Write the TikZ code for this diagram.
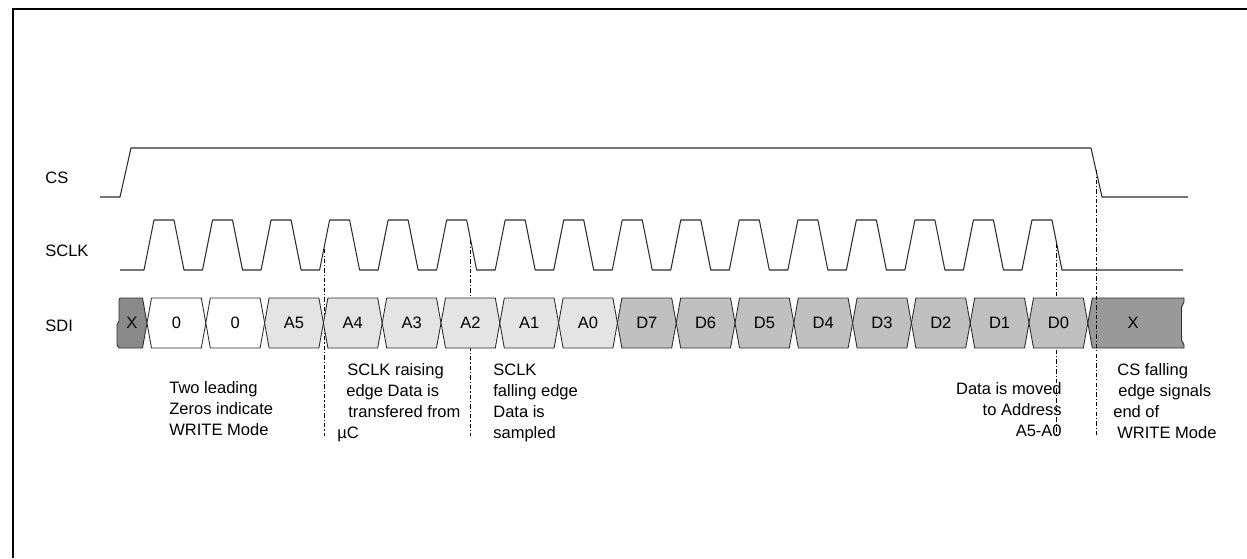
\documentclass[tikz,border=0pt]{standalone}
\usepackage{fontspec}
\setmainfont{Liberation Sans}
\usepackage{xcolor}
\usepackage{tikz}
\usetikzlibrary{positioning}
\definecolor{waveline}{RGB}{45,45,45}
\definecolor{xdark}{RGB}{138,138,138}
\definecolor{xend}{RGB}{153,153,153}
\definecolor{addrgray}{RGB}{228,228,228}
\definecolor{datagray}{RGB}{192,192,192}

\begin{document}
\begin{tikzpicture}[x=0.02cm,y=-0.02cm,
font=\fontsize{9.4}{11.9}\selectfont,
wave/.style={draw=waveline,line width=0.6pt,line join=round},
cell/.style={draw=waveline,line width=0.5pt,line join=round},
guide/.style={draw=black,line width=0.5pt,dash pattern=on 2.5pt off 1.2pt on 0.6pt off 1.2pt},
sig/.style={anchor=west,inner sep=0pt},
bit/.style={inner sep=0pt},
note/.style={align=left,anchor=north west,inner sep=0pt}]
\useasboundingbox (0,0) rectangle (1247,558);
\draw[line width=1.4pt] (13,558) -- (13,9) -- (1247,9);
\node[sig] (cs) at (45,178) {CS};
\node[sig] (sclk) at (45,251) {SCLK};
\node[sig] (sdi) at (45,326) {SDI};
\draw[wave] (100,197) -- (120,197) -- (131,148) -- (1091,148) -- (1102,197) -- (1188,197);
\draw[wave] (120,270) \foreach \k in {0,...,15} { -- ({144+58.53*\k},270) -- ({154+58.53*\k},220) -- ({174+58.53*\k},220) -- ({184+58.53*\k},270) } -- (1183,270);
\coordinate (rise) at (324,249);
\coordinate (fall) at (470.5,240);
\coordinate (lastfall) at (1056.7,243.5);
\coordinate (csfall) at (1096,170);
\coordinate (guideend) at (0,436);
\foreach \c in {rise,fall,lastfall} \draw[guide] (\c) -- (\c |- guideend);
\filldraw[cell,fill=xdark] (120,298) -- (142.5,298) -- (147,323) -- (142.5,348) -- (119,348) -- (117,345) -- (117,325) -- (119,321) -- (119,300) -- cycle;
\node[bit] (bitx) at (132,323) {X};
\foreach \lab/\col [count=\k from 0] in {0/white,0/white,A5/addrgray,A4/addrgray,A3/addrgray,A2/addrgray,A1/addrgray,A0/addrgray,D7/datagray,D6/datagray,D5/datagray,D4/datagray,D3/datagray,D2/datagray,D1/datagray,D0/datagray}
{
\pgfmathsetmacro{\xa}{147+58.8*\k}
\pgfmathsetmacro{\xb}{\xa+58.8}
\filldraw[cell,fill=\col] (\xa,323) -- (\xa+4.5,298) -- (\xb-4.5,298) -- (\xb,323) -- (\xb-4.5,348) -- (\xa+4.5,348) -- cycle;
\node[bit] (bit\k) at ({(\xa+\xb)/2},323) {\lab};
}
\filldraw[cell,fill=xend] (1087.8,323) -- (1092.3,298) -- (1184,298) -- (1184,302) -- (1181.5,307) -- (1181.5,340) -- (1184,345) -- (1184,348) -- (1092.3,348) -- cycle;
\node[bit] (bitend) at (1133,323) {X};
\draw[guide] (csfall) -- (csfall |- guideend);
\node[note] (twozero) at (169,381) {Two leading\\Zeros indicate\\WRITE Mode};
\node[note] (risenote) at (337,363) {\hspace*{0.2cm}SCLK raising\\\hspace*{0.18cm}edge Data is\\\hspace*{0.22cm}transfered from\\µC};
\node[note] (fallnote) at (493,364) {SCLK\\falling edge\\Data is\\sampled};
\node[note,align=right,anchor=north east] (movenote) at (1062,382) {Data is moved\\to Address\\A5-A0};
\node[note] (csnote) at (1113,363) {\hspace*{0.08cm}CS falling\\\hspace*{0.1cm}edge signals\\end of\\\hspace*{0.08cm}WRITE Mode};
\end{tikzpicture}
\end{document}
